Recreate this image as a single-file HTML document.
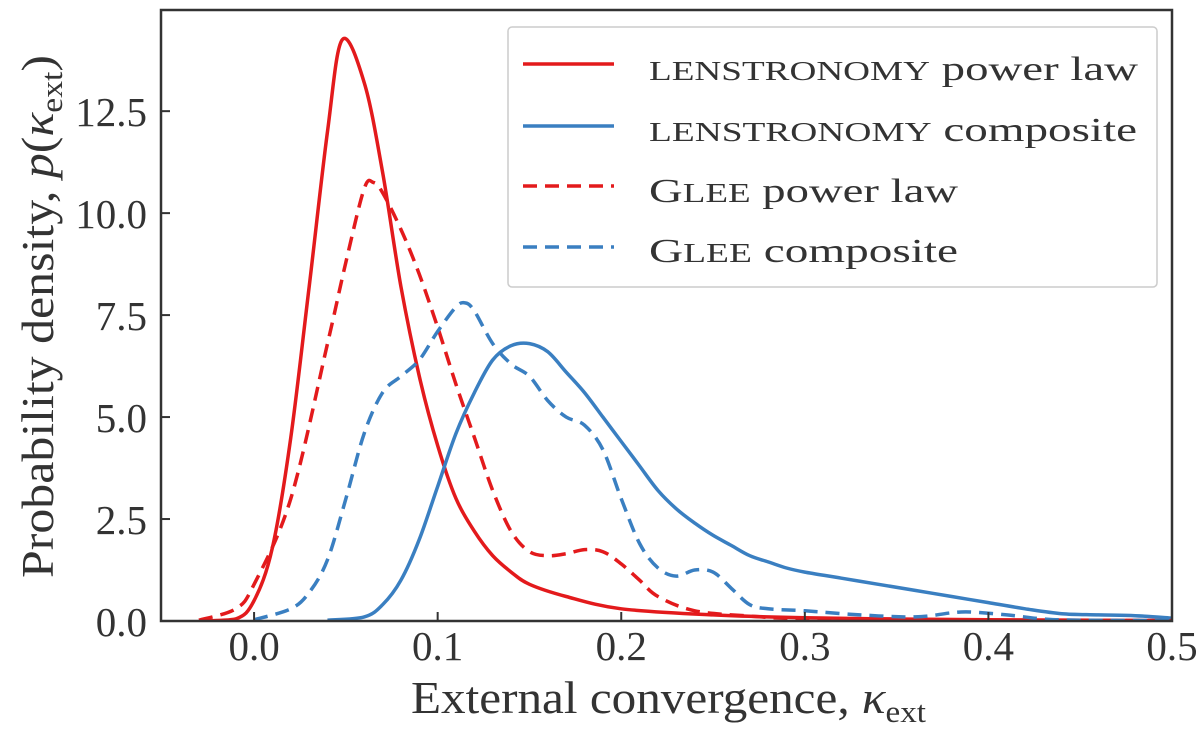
<!DOCTYPE html>
<html><head><meta charset="utf-8"><style>
body{margin:0;background:#fff;}
svg text{font-family:"Liberation Serif","DejaVu Serif",serif;fill:#333;}
</style></head><body>
<svg id="chart" width="1200" height="735" xmlns="http://www.w3.org/2000/svg">
<g id="plot"></g>
</svg>
<script>
const xTicks=[0.0,0.1,0.2,0.3,0.4,0.5];
const xTickLabels=["0.0","0.1","0.2","0.3","0.4","0.5"];
const yTicks=[0,2.5,5,7.5,10,12.5];
const yTickLabels=["0.0","2.5","5.0","7.5","10.0","12.5"];
const lensPLx=[-0.03,-0.01,0.0,0.01,0.02,0.03,0.04,0.048,0.06,0.07,0.08,0.09,0.1,0.11,0.12,0.13,0.14,0.15,0.17,0.2,0.25,0.3,0.35,0.4,0.5];
const lensPLy=[0,0.05,0.5,1.8,4.5,8.2,12.0,14.25,13.2,11.0,8.2,6.0,4.3,3.0,2.2,1.6,1.2,0.9,0.6,0.3,0.15,0.08,0.05,0.03,0.01];
const lensCx=[0.04,0.06,0.07,0.08,0.09,0.1,0.11,0.12,0.13,0.14,0.15,0.16,0.17,0.18,0.19,0.2,0.21,0.22,0.23,0.24,0.25,0.26,0.27,0.28,0.29,0.3,0.32,0.34,0.36,0.38,0.4,0.42,0.44,0.46,0.48,0.5];
const lensCy=[0.02,0.1,0.4,1.0,2.0,3.3,4.6,5.6,6.4,6.75,6.8,6.6,6.1,5.6,5.0,4.4,3.8,3.2,2.75,2.4,2.1,1.85,1.6,1.45,1.3,1.2,1.05,0.9,0.75,0.6,0.45,0.3,0.18,0.15,0.13,0.07];
const gleePLx=[-0.03,-0.01,0.0,0.02,0.04,0.05,0.06,0.065,0.07,0.08,0.09,0.1,0.11,0.12,0.13,0.14,0.15,0.16,0.17,0.18,0.19,0.2,0.21,0.22,0.24,0.27,0.3,0.35,0.4,0.5];
const gleePLy=[0.02,0.3,0.9,3.0,6.8,8.8,10.6,10.75,10.5,9.6,8.5,7.2,5.8,4.5,3.2,2.2,1.7,1.6,1.65,1.75,1.7,1.4,1.0,0.6,0.25,0.12,0.05,0.03,0.02,0.01];
const gleeCx=[0.0,0.02,0.03,0.04,0.05,0.06,0.07,0.08,0.09,0.1,0.11,0.115,0.12,0.13,0.14,0.15,0.16,0.17,0.18,0.19,0.2,0.21,0.22,0.23,0.24,0.25,0.26,0.27,0.28,0.3,0.33,0.36,0.38,0.39,0.41,0.43,0.45,0.5];
const gleeCy=[0.03,0.3,0.7,1.5,3.0,4.6,5.6,6.0,6.4,7.1,7.7,7.8,7.6,6.8,6.3,6.0,5.4,5.0,4.8,4.2,3.0,1.9,1.3,1.1,1.25,1.2,0.8,0.4,0.3,0.25,0.15,0.1,0.2,0.22,0.15,0.05,0.02,0.01];

const L=161,R=1172,T=10,B=621,X0=-0.0507,X1=0.5,Y0=0,Y1=14.98;
const sx=v=>L+(v-X0)/(X1-X0)*(R-L);
const sy=v=>B-(v-Y0)/(Y1-Y0)*(B-T);
const NS="http://www.w3.org/2000/svg";
const g=document.getElementById('plot');
function el(tag,attrs,parent){const e=document.createElementNS(NS,tag);for(const k in attrs)e.setAttribute(k,attrs[k]);(parent||g).appendChild(e);return e;}
function smooth(xs,ys){
  const p=xs.map((x,i)=>[sx(x),sy(ys[i])]);
  let d="M"+p[0][0].toFixed(1)+","+p[0][1].toFixed(1);
  for(let i=0;i<p.length-1;i++){
    const p0=p[i-1]||p[i],p1=p[i],p2=p[i+1],p3=p[i+2]||p2;
    const c1=[p1[0]+(p2[0]-p0[0])/6,p1[1]+(p2[1]-p0[1])/6];
    const c2=[p2[0]-(p3[0]-p1[0])/6,p2[1]-(p3[1]-p1[1])/6];
    d+=`C${c1[0].toFixed(1)},${Math.min(B,c1[1]).toFixed(1)} ${c2[0].toFixed(1)},${Math.min(B,c2[1]).toFixed(1)} ${p2[0].toFixed(1)},${p2[1].toFixed(1)}`;
  }
  return d;
}
const clip=el('clipPath',{id:'cp'});el('rect',{x:L,y:T,width:R-L,height:B-T},clip);
const series=[[lensPLx,lensPLy,'#e31a1c',null,'lenstronomy-power-law-line'],[lensCx,lensCy,'#3a7fc1',null,'lenstronomy-composite-line'],[gleePLx,gleePLy,'#e31a1c','14 8','glee-power-law-line'],[gleeCx,gleeCy,'#3a7fc1','14 8','glee-composite-line']];
series.forEach(s=>{const a={d:smooth(s[0],s[1]),fill:'none',stroke:s[2],'stroke-width':3.5,'clip-path':'url(#cp)','stroke-linejoin':'round'};if(s[3])a['stroke-dasharray']=s[3];const p=el('path',a);

});
const fr=el('rect',{x:L,y:T,width:R-L,height:B-T,fill:'none',stroke:'#333','stroke-width':2.5});


xTicks.forEach((v,i)=>{el('line',{x1:sx(v),x2:sx(v),y1:B,y2:B-9,stroke:'#333','stroke-width':2});
const t=el('text',{x:sx(v),y:B+39,'text-anchor':'middle','font-size':41});t.textContent=xTickLabels[i];

});
yTicks.forEach((v,i)=>{el('line',{x1:L,x2:L+9,y1:sy(v),y2:sy(v),stroke:'#333','stroke-width':2});
const t=el('text',{x:L-14,y:sy(v)+15,'text-anchor':'end','font-size':41});t.textContent=yTickLabels[i];

});
</script>
<svg width="1200" height="735" style="position:absolute;left:0;top:0" xmlns="http://www.w3.org/2000/svg">
<text x="411" y="713" font-size="46" textLength="515" lengthAdjust="spacingAndGlyphs">External convergence, <tspan font-style="italic">κ</tspan><tspan font-size="31" dy="9">ext</tspan></text>
<text transform="translate(53,578) rotate(-90)" font-size="46" textLength="523" lengthAdjust="spacingAndGlyphs">Probability density, <tspan font-style="italic">p</tspan>(<tspan font-style="italic">κ</tspan><tspan font-size="31" dy="9">ext</tspan><tspan dy="-9">)</tspan></text>
<g>
<rect x="508" y="27" width="649" height="260" rx="4" fill="#fff" stroke="#ccc" stroke-width="1.5"/>
<line x1="523" y1="64" x2="614" y2="64" stroke="#e31a1c" stroke-width="3.5"/>
<text x="649" y="80" font-size="34" textLength="489" lengthAdjust="spacingAndGlyphs"><tspan font-size="27">LENSTRONOMY</tspan> power law</text>
<line x1="523" y1="126" x2="614" y2="126" stroke="#3a7fc1" stroke-width="3.5"/>
<text x="649" y="141" font-size="34" textLength="488" lengthAdjust="spacingAndGlyphs"><tspan font-size="27">LENSTRONOMY</tspan> composite</text>
<line x1="523" y1="186" x2="614" y2="186" stroke="#e31a1c" stroke-width="3.5" stroke-dasharray="14 8"/>
<text x="649" y="202" font-size="34" textLength="309" lengthAdjust="spacingAndGlyphs">G<tspan font-size="27">LEE</tspan> power law</text>
<line x1="523" y1="247" x2="614" y2="247" stroke="#3a7fc1" stroke-width="3.5" stroke-dasharray="14 8"/>
<text x="649" y="262" font-size="34" textLength="309" lengthAdjust="spacingAndGlyphs">G<tspan font-size="27">LEE</tspan> composite</text>
</g>
</svg>
</body></html>
